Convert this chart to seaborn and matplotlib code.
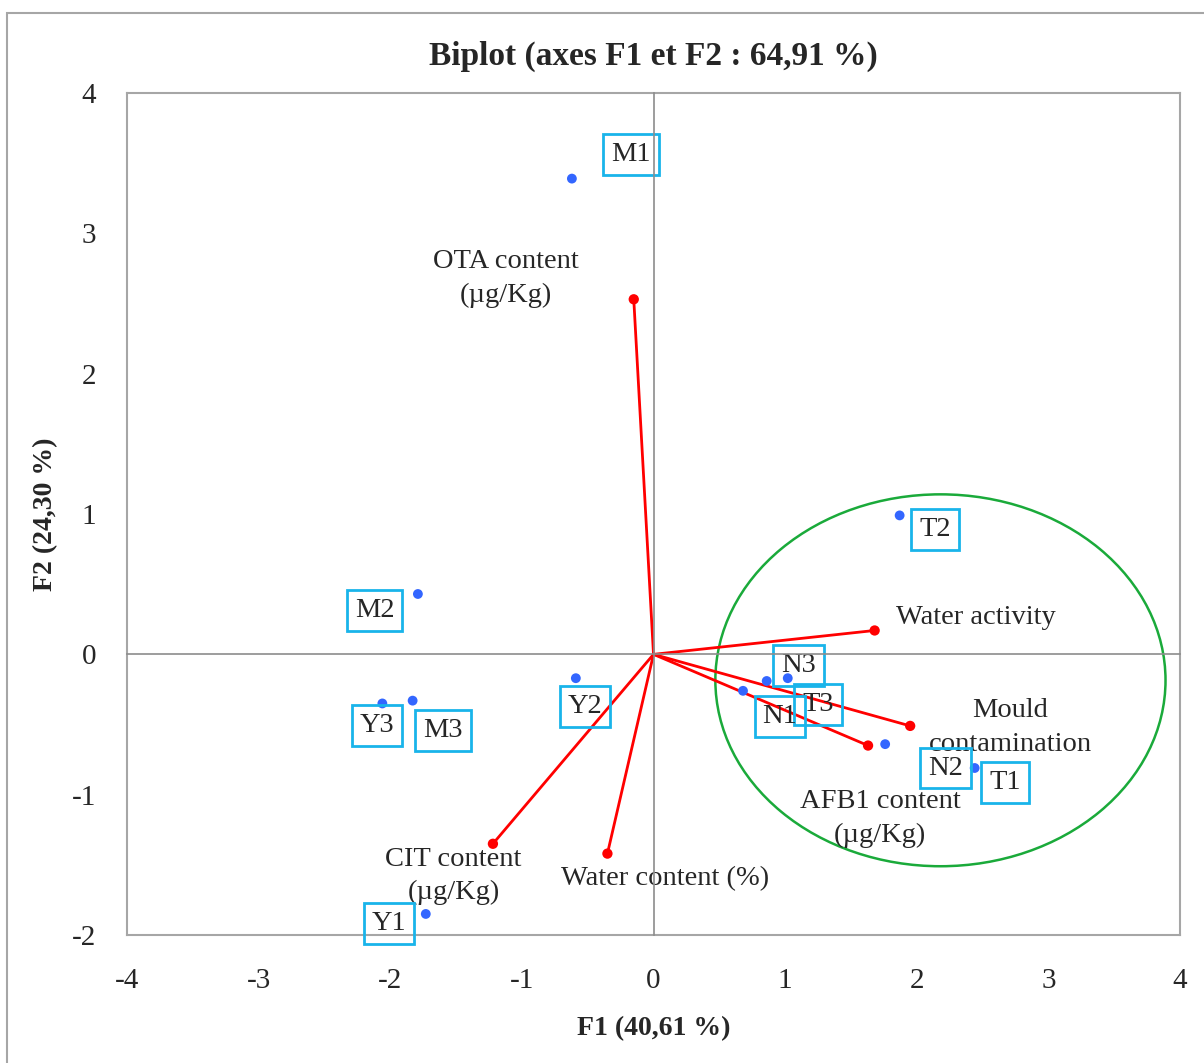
import numpy as np
import pandas as pd
import matplotlib
matplotlib.use("Agg")
import matplotlib.pyplot as plt
from matplotlib.patches import Ellipse, Rectangle
import seaborn as sns

# --- observations (F1, F2 scores) ---
obs_names = ['M1', 'M2', 'M3', 'Y1', 'Y2', 'Y3', 'T1', 'T2', 'T3', 'N1', 'N2', 'N3']
obs_f1 = [-0.62, -1.79, -1.83, -1.73, -0.59, -2.06, 2.44, 1.87, 0.86, 0.68, 1.76, 1.02]
obs_f2 = [3.39, 0.43, -0.33, -1.85, -0.17, -0.35, -0.81, 0.99, -0.19, -0.26, -0.64, -0.17]

# --- variables (loadings) ---
var_names = ['OTA content\n(µg/Kg)', 'Water activity', 'Mould\ncontamination',
             'AFB1 content\n(µg/Kg)', 'CIT content\n(µg/Kg)', 'Water content (%)']
var_f1 = [-0.15, 1.68, 1.95, 1.63, -1.22, -0.35]
var_f2 = [2.53, 0.17, -0.51, -0.65, -1.35, -1.42]

x_ticks = [-4, -3, -2, -1, 0, 1, 2, 3, 4]
y_ticks = [-2, -1, 0, 1, 2, 3, 4]

# label placement (layout only)
obs_label_pos = {'M1': (-0.17, 3.56), 'M2': (-2.12, 0.31), 'M3': (-1.60, -0.54),
                 'Y1': (-2.01, -1.92), 'Y2': (-0.52, -0.37), 'Y3': (-2.10, -0.51),
                 'T1': (2.67, -0.91), 'T2': (2.14, 0.89), 'T3': (1.25, -0.36),
                 'N1': (0.96, -0.44), 'N2': (2.22, -0.81), 'N3': (1.10, -0.08)}
var_label_pos = [(-1.12, 2.68, 'center'), (1.84, 0.26, 'left'), (2.71, -0.52, 'center'),
                 (1.72, -1.17, 'center'), (-1.52, -1.58, 'center'), (0.09, -1.60, 'center')]

df = pd.DataFrame({'F1': obs_f1, 'F2': obs_f2, 'name': obs_names})

sns.set_style("white")
plt.rcParams['font.family'] = ['Liberation Serif', 'DejaVu Serif']
plt.rcParams['axes.unicode_minus'] = False

fig = plt.figure(figsize=(12.04, 10.63), dpi=100)
rect = [127/1204, 1-935/1063, (1180-127)/1204, (935-93)/1063]
ax = fig.add_axes(rect)

# outer frame of the chart area
fig.patches.append(Rectangle((7/1204, -0.1), 1.2, 1-13/1063+0.1, transform=fig.transFigure,
                             fill=False, edgecolor='#a6a6a6', lw=1.5, zorder=0))

ax.set_xlim(-4, 4)
ax.set_ylim(-2, 4)
ax.set_xticks(x_ticks)
ax.set_yticks(y_ticks)
ax.tick_params(axis='both', length=0, labelsize=21)
ax.tick_params(axis='x', pad=24)
ax.tick_params(axis='y', pad=22)
for s in ax.spines.values():
    s.set_color('#a6a6a6')
    s.set_linewidth(1.5)

# zero axes with crossing ticks
ax0 = fig.add_axes(rect, facecolor='none')
ax0.set_xlim(-4, 4)
ax0.set_ylim(-2, 4)
for side in ['top', 'right']:
    ax0.spines[side].set_visible(False)
for side in ['left', 'bottom']:
    ax0.spines[side].set_position(('data', 0))
    ax0.spines[side].set_color('#8c8c8c')
    ax0.spines[side].set_linewidth(1.2)
ax0.tick_params(axis='both', direction='inout', length=14, width=1.2, color='#8c8c8c',
                labelleft=False, labelbottom=False)
ax0.set_xticks([t for t in x_ticks if t not in (-4, 0, 4)])
ax0.set_yticks([t for t in y_ticks if t not in (-2, 0, 4)])

# ellipse around the T/N group
ax.add_patch(Ellipse((2.18, -0.185), 3.42, 2.65, fill=False, edgecolor='#1aaa3a', lw=1.8))

# variable vectors
for x, y in zip(var_f1, var_f2):
    ax.plot([0, x], [0, y], color='red', lw=2, zorder=3)
sns.scatterplot(x=var_f1, y=var_f2, color='red', s=55, edgecolor='none', ax=ax, zorder=4)
for name, (lx, ly, ha) in zip(var_names, var_label_pos):
    ax.text(lx, ly, name, ha=ha, va='center', fontsize=20.5, linespacing=1.45, zorder=5)

# observations
sns.scatterplot(data=df, x='F1', y='F2', color='#3366ff', s=50, edgecolor='none', ax=ax, zorder=4)
for name in obs_names:
    lx, ly = obs_label_pos[name]
    ax.text(lx, ly, name, ha='center', va='center', fontsize=20.5, zorder=5,
            bbox=dict(boxstyle='square,pad=0.28', facecolor='none', edgecolor='#19b4ea', lw=2))

ax.set_xlabel('F1 (40,61 %)', fontsize=20, fontweight='bold', labelpad=16)
ax.set_ylabel('F2 (24,30 %)', fontsize=20, fontweight='bold', labelpad=10)
ax.set_title('Biplot (axes F1 et F2 : 64,91 %)', fontsize=24, fontweight='bold', pad=20)

fig.savefig('out.png', dpi=100)
